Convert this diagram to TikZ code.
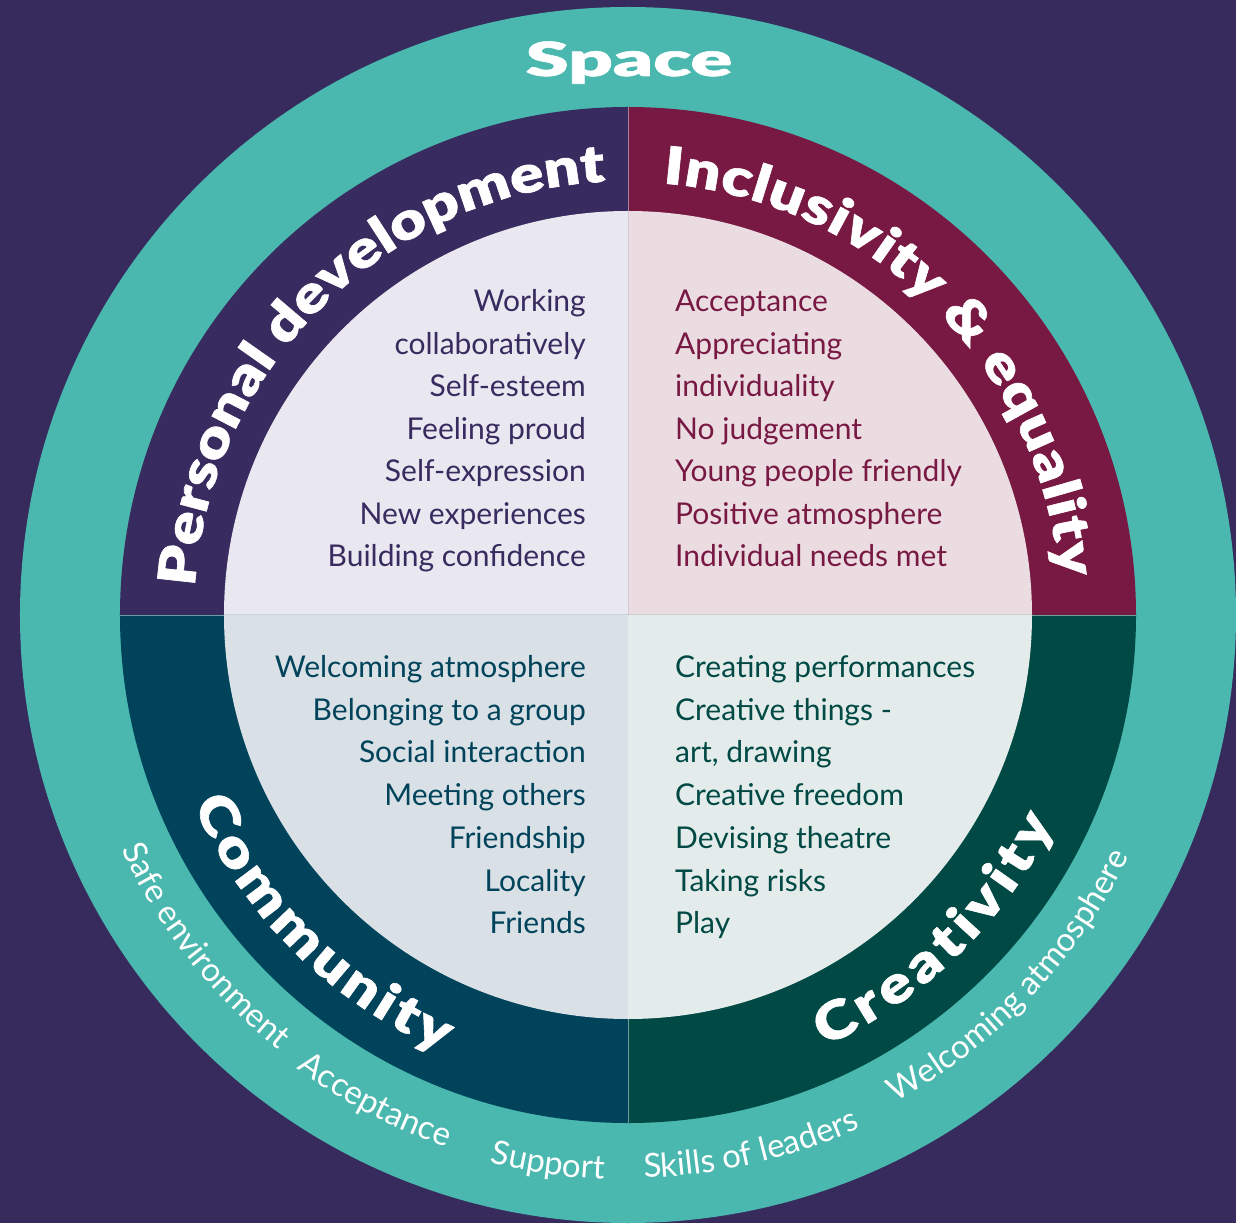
\documentclass[tikz,border=0pt]{standalone}
\usepackage{fontspec}
\usetikzlibrary{decorations.text}
\setmainfont{Lato}
\IfFontExistsTF{Lato Black}
	{\newfontfamily\titlefont{Lato Black}[FakeStretch=1.2,FakeBold=1.2]}
	{\newfontfamily\titlefont{Lato}[UprightFont=*-Bold,FakeStretch=1.2,FakeBold=2]}
\newfontfamily\ringfont{Lato}
\definecolor{spacebg}{HTML}{372B5E}
\definecolor{spaceteal}{HTML}{4AB8AE}
\definecolor{pdpurple}{HTML}{382B5F}
\definecolor{iemaroon}{HTML}{781944}
\definecolor{cmblue}{HTML}{00435A}
\definecolor{crgreen}{HTML}{004944}
\definecolor{pdlight}{HTML}{E9E8F0}
\definecolor{ielight}{HTML}{EBDCE2}
\definecolor{cmlight}{HTML}{D9E1E7}
\definecolor{crlight}{HTML}{E3ECEA}
\newcommand\titlesize{\fontsize{52}{60}\titlefont}
\newcommand\ringsize{\fontsize{33}{40}\ringfont}

\begin{document}
\begin{tikzpicture}[x=1pt, y=1pt,
	item/.style={font=\fontsize{30}{36}\selectfont, inner sep=0pt},
	leftitem/.style={item, anchor=base east},
	rightitem/.style={item, anchor=base west},
	seam/.style={white, opacity=0.45, line width=0.8pt},
	title/.style={decorate, decoration={text along path,
		text align=fit to path, text color=white, text={|\titlesize|#1}}},
	ringtext/.style={decorate, decoration={text along path,
		text align=center, text color=white, text={|\ringsize|#1}}}]
\useasboundingbox (-628,-608) rectangle (608,615);
\fill[spacebg] (-628,-608) rectangle (608,615);
\fill[spaceteal] (0,0) circle[radius=608];
\foreach \a/\outer/\inner in {0/iemaroon/ielight, 90/pdpurple/pdlight,
		180/cmblue/cmlight, 270/crgreen/crlight} {
	\fill[\outer] (0,0) -- (\a:508) arc[start angle=\a, end angle=\a+90, radius=508] -- cycle;
	\fill[\inner] (0,0) -- (\a:404) arc[start angle=\a, end angle=\a+90, radius=404] -- cycle;
}
\foreach \a in {0,90,180,270} \draw[seam] (\a:404) -- (\a:508);

\node[anchor=base, text=white, font=\fontsize{47}{50}\titlefont, xscale=1.38]
	(space) at (1,539) {Space};
\path[title=Personal development]
	(176.3:434) arc[start angle=176.3, end angle=93.3, radius=434];
\path[title=Inclusivity {\&} equality]
	(85.4:433) arc[start angle=85.4, end angle=5, radius=433];
\path[title=Community]
	(203.5:474) arc[start angle=203.5, end angle=247, radius=474];
\path[title=Creativity]
	(294.5:474) arc[start angle=294.5, end angle=334, radius=474];

\foreach \t/\c/\r in {Safe environment/218/558, Acceptance/242.5/562,
		Support/261.7/565, Skills of leaders/283/563, Welcoming atmosphere/316.5/556}
	\path[ringtext=\t] (\c-40:\r) arc[start angle=\c-40, end angle=\c+40, radius=\r];

\foreach \t [count=\i] in {Working, collaboratively, Self-esteem, Feeling proud,
		Self-expression, New experiences, Building confidence}
	\node[leftitem, text=pdpurple] (pd\i) at (-42, 345.5-42.5*\i) {\t};
\foreach \t [count=\i] in {Acceptance, Appreciating, individuality, No judgement,
		Young people friendly, Positive atmosphere, Individual needs met}
	\node[rightitem, text=iemaroon] (ie\i) at (47, 345.5-42.5*\i) {\t};
\foreach \t [count=\i] in {Welcoming atmosphere, Belonging to a group, Social interaction,
		Meeting others, Friendship, Locality, Friends}
	\node[leftitem, text=cmblue] (cm\i) at (-42, -19.8-42.7*\i) {\t};
\foreach \t [count=\i] in {Creating performances, Creative things -, {art, drawing},
		Creative freedom, Devising theatre, Taking risks, Play}
	\node[rightitem, text=crgreen] (cr\i) at (47, -19.8-42.7*\i) {\t};
\end{tikzpicture}
\end{document}
